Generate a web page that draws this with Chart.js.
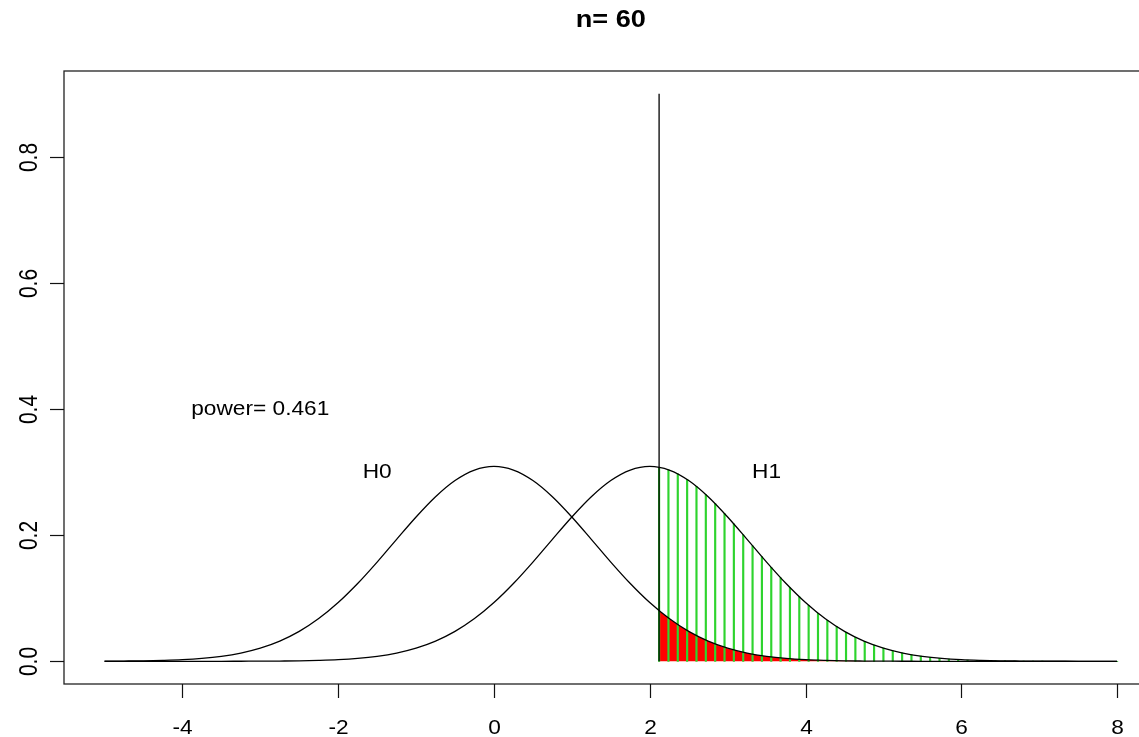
<!DOCTYPE html>
<html>
<head>
<meta charset="utf-8">
<title>n= 60</title>
<script src="https://cdn.jsdelivr.net/npm/chart.js@4.4.1/dist/chart.umd.min.js"></script>
<style>
  html, body { margin: 0; padding: 0; background: #fff; overflow: hidden; }
  #wrap { width: 1160px; height: 737px; }
</style>
</head>
<body>
<div id="wrap"><canvas id="powerChart" width="1160" height="737"></canvas></div>
<script>
// ==============================
// power plot, n = 60
// ==============================

// curve grid (x) and the two densities
const xGrid = [-5, -4.75, -4.5, -4.25, -4, -3.75, -3.5, -3.25, -3, -2.75, -2.5, -2.25, -2, -1.75, -1.5, -1.25,
    -1, -0.75, -0.5, -0.25, 0, 0.25, 0.5, 0.75, 1, 1.25, 1.5, 1.75, 2, 2.25, 2.5, 2.75, 3, 3.25, 3.5, 3.75,
    4, 4.25, 4.5, 4.75, 5, 5.25, 5.5, 5.75, 6, 6.25, 6.5, 6.75, 7, 7.25, 7.5, 7.75, 8];

const h0 = [0.0002, 0.0004, 0.0007, 0.0014, 0.0025, 0.0045, 0.0078, 0.0130, 0.0208, 0.0320, 0.0474, 0.0677,
    0.0931, 0.1233, 0.1573, 0.1934, 0.2289, 0.2610, 0.2867, 0.3033, 0.3090, 0.3033, 0.2867, 0.2610, 0.2289,
    0.1934, 0.1573, 0.1233, 0.0931, 0.0677, 0.0474, 0.0320, 0.0208, 0.0130, 0.0078, 0.0045, 0.0025, 0.0014,
    0.0007, 0.0004, 0.0002, 0.0001, 0, 0, 0, 0, 0, 0, 0, 0, 0, 0, 0];

const h1 = [0, 0, 0, 0, 0, 0, 0, 0.0001, 0.0002, 0.0004, 0.0007, 0.0014, 0.0025, 0.0045, 0.0078, 0.0130,
    0.0208, 0.0320, 0.0474, 0.0677, 0.0931, 0.1233, 0.1573, 0.1934, 0.2289, 0.2610, 0.2867, 0.3033, 0.3090,
    0.3033, 0.2867, 0.2610, 0.2289, 0.1934, 0.1573, 0.1233, 0.0931, 0.0677, 0.0474, 0.0320, 0.0208, 0.0130,
    0.0078, 0.0045, 0.0025, 0.0014, 0.0007, 0.0004, 0.0002, 0.0001, 0, 0, 0];

// rejection region, hatched from the critical value to 8
const critValue = 2.12;
const critTop = 0.9;

const tailX = [2.12, 2.24, 2.36, 2.48, 2.60, 2.72, 2.84, 2.96, 3.08, 3.20, 3.32, 3.44, 3.56, 3.68, 3.80, 3.92,
    4.04, 4.16, 4.28, 4.40, 4.52, 4.64, 4.76, 4.88, 5.00, 5.12, 5.24, 5.36, 5.48, 5.60, 5.72, 5.84, 5.96,
    6.08, 6.20, 6.32, 6.44, 6.56, 6.68, 6.80, 6.92, 7.04, 7.16, 7.28, 7.40, 7.52, 7.64, 7.76, 7.88, 8.00];

const tailH0 = [0.0803, 0.0686, 0.0581, 0.0488, 0.0407, 0.0336, 0.0275, 0.0223, 0.0179, 0.0143, 0.0113,
    0.0089, 0.0069, 0.0053, 0.0041, 0.0031, 0.0023, 0.0017, 0.0013, 0.0009, 0.0007, 0.0005, 0.0003, 0.0002,
    0.0002, 0.0001, 0.0001, 0, 0, 0, 0, 0, 0, 0, 0, 0, 0, 0, 0, 0, 0, 0, 0, 0, 0, 0, 0, 0, 0, 0];

const tailH1 = [0.3077, 0.3037, 0.2973, 0.2884, 0.2774, 0.2645, 0.2501, 0.2344, 0.2178, 0.2006, 0.1832,
    0.1659, 0.1489, 0.1325, 0.1169, 0.1023, 0.0887, 0.0762, 0.0650, 0.0549, 0.0460, 0.0382, 0.0315, 0.0257,
    0.0208, 0.0167, 0.0133, 0.0105, 0.0082, 0.0063, 0.0049, 0.0037, 0.0028, 0.0021, 0.0016, 0.0011, 0.0008,
    0.0006, 0.0004, 0.0003, 0.0002, 0.0002, 0.0001, 0.0001, 0, 0, 0, 0, 0, 0];

// axis ticks
const xTicks = [-4, -2, 0, 2, 4, 6, 8];
const yTicks = [0, 0.2, 0.4, 0.6, 0.8];
const yTickLabels = ['0.0', '0.2', '0.4', '0.6', '0.8'];

// text labels in data units
const titleText = 'n= 60';
const notes = [
    { text: 'power= 0.461', x: -3.0, y: 0.40 },
    { text: 'H0', x: -1.5, y: 0.30 },
    { text: 'H1', x: 3.5, y: 0.30 }
];

const FONT = '"Liberation Sans", Arial, sans-serif';
const STRETCH = 1.08; // the reference text is a bit wider than it is tall

function pts(xs, ys) {
    return xs.map((x, i) => ({ x: x, y: ys[i] }));
}

function wideText(ctx, text, x, y, sx) {
    ctx.save();
    ctx.translate(x, y);
    ctx.scale(sx, 1);
    ctx.fillText(text, 0, 0);
    ctx.restore();
}

// box, axes, labels, title (base R look)
const baseAxes = {
    id: 'baseAxes',
    afterDraw(chart) {
        const ctx = chart.ctx;
        const area = chart.chartArea;
        const xs = chart.scales.x;
        const ys = chart.scales.y;

        ctx.save();
        ctx.strokeStyle = '#222';
        ctx.lineWidth = 1.3;
        ctx.strokeRect(area.left, area.top, area.right - area.left, area.bottom - area.top);

        ctx.fillStyle = '#000';
        ctx.lineWidth = 1.2;
        ctx.strokeStyle = '#111';

        // x axis
        ctx.font = '21px ' + FONT;
        ctx.textAlign = 'center';
        ctx.textBaseline = 'alphabetic';
        xTicks.forEach(v => {
            const px = Math.round(xs.getPixelForValue(v)) + 0.5;
            ctx.beginPath();
            ctx.moveTo(px, area.bottom);
            ctx.lineTo(px, area.bottom + 14);
            ctx.stroke();
            wideText(ctx, String(v), px, area.bottom + 50, STRETCH);
        });

        // y axis, labels turned like R's las = 0
        yTicks.forEach((v, i) => {
            const py = Math.round(ys.getPixelForValue(v)) + 0.5;
            ctx.beginPath();
            ctx.moveTo(area.left, py);
            ctx.lineTo(area.left - 14, py);
            ctx.stroke();
            ctx.save();
            ctx.translate(37, py);
            ctx.rotate(-Math.PI / 2);
            ctx.scale(1, 1.2);
            ctx.fillText(yTickLabels[i], 0, 0);
            ctx.restore();
        });

        // notes
        ctx.textBaseline = 'middle';
        notes.forEach(n => {
            wideText(ctx, n.text, xs.getPixelForValue(n.x), ys.getPixelForValue(n.y), STRETCH);
        });

        // title
        ctx.font = 'bold 23px ' + FONT;
        ctx.textBaseline = 'alphabetic';
        wideText(ctx, titleText, (area.left + area.right) / 2, 27, 1.18);
        ctx.restore();
    }
};

const ctx = document.getElementById('powerChart');

new Chart(ctx, {
    type: 'line',
    data: {
        datasets: [
            {
                label: 'H0',
                data: pts(xGrid, h0),
                borderColor: '#000',
                borderWidth: 1.3,
                pointRadius: 0,
                cubicInterpolationMode: 'monotone',
                fill: false,
                order: 1
            },
            {
                label: 'H1',
                data: pts(xGrid, h1),
                borderColor: '#000',
                borderWidth: 1.3,
                pointRadius: 0,
                cubicInterpolationMode: 'monotone',
                fill: false,
                order: 1
            },
            {
                label: 'critical',
                data: [{ x: critValue, y: 0 }, { x: critValue, y: critTop }],
                borderColor: '#000',
                borderWidth: 1.3,
                pointRadius: 0,
                fill: false,
                order: 1
            },
            {
                type: 'bar',
                label: 'power hatch',
                data: pts(tailX, tailH1),
                backgroundColor: '#2ed42e',
                barThickness: 1.5,
                grouped: false,
                order: 2
            },
            {
                label: 'alpha',
                data: pts(tailX, tailH0),
                borderWidth: 0,
                borderColor: 'rgba(0,0,0,0)',
                backgroundColor: '#ff0000',
                pointRadius: 0,
                cubicInterpolationMode: 'monotone',
                fill: 'origin',
                order: 3
            }
        ]
    },
    options: {
        responsive: false,
        animation: false,
        layout: { padding: { left: 64, right: 2.4, top: 71, bottom: 53 } },
        scales: {
            x: { type: 'linear', min: -5.52, max: 8.52, offset: false, display: false },
            y: { type: 'linear', min: -0.036, max: 0.936, display: false }
        },
        plugins: {
            legend: { display: false },
            tooltip: { enabled: false },
            title: { display: false }
        }
    },
    plugins: [baseAxes]
});
</script>
</body>
</html>
